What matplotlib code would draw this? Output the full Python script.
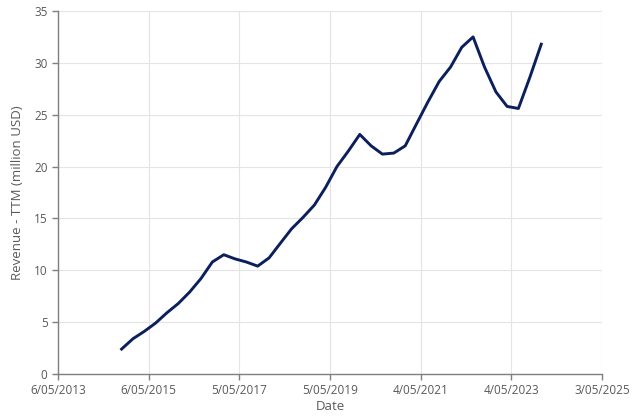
import datetime as dt
import matplotlib
matplotlib.use("Agg")
import matplotlib.pyplot as plt

# quarterly trailing-twelve-month revenue, Q3 2014 .. Q4 2023
start_quarter = (2014, 3)
revenue = [2.4, 3.4, 4.1, 4.9, 5.9, 6.8, 7.9, 9.2, 10.8, 11.5,
           11.1, 10.8, 10.4, 11.2, 12.6, 14.0, 15.1, 16.3, 18.0, 20.0,
           21.5, 23.1, 22.0, 21.2, 21.3, 22.0, 24.1, 26.2, 28.2, 29.6,
           31.5, 32.5, 29.6, 27.2, 25.8, 25.6, 28.6, 31.8]
tick_labels = ["6/05/2013", "6/05/2015", "5/05/2017", "5/05/2019",
               "4/05/2021", "4/05/2023", "3/05/2025"]
tick_step_days = 730


def quarter_end(y, q):
    if q == 4:
        return dt.date(y, 12, 31)
    return dt.date(y, 3 * q + 1, 1) - dt.timedelta(days=1)


dates = []
y, q = start_quarter
for _ in revenue:
    dates.append(quarter_end(y, q))
    q += 1
    if q > 4:
        q, y = 1, y + 1

first_tick = dt.date(2013, 5, 6)
tick_dates = [first_tick + dt.timedelta(days=tick_step_days * i) for i in range(len(tick_labels))]

plt.rcParams["font.family"] = ["Open Sans", "DejaVu Sans"]
text_col = "#595959"

dpi = 100
fig = plt.figure(figsize=(640 / dpi, 418 / dpi), dpi=dpi)
ax = fig.add_axes([0.0906, 0.1053, 0.85, 0.8684])

ax.plot(dates, revenue, color="#0b1f5c", lw=2.1, solid_joinstyle="round", zorder=3)

ax.set_xlim(tick_dates[0], tick_dates[-1])
ax.set_ylim(0, 35)
ax.set_xticks(tick_dates)
ax.set_xticklabels(tick_labels)
ax.set_yticks(range(0, 36, 5))

ax.grid(True, color="#e4e4e4", lw=0.8)
ax.set_axisbelow(True)
for s in ["top", "right"]:
    ax.spines[s].set_visible(False)
for s in ["left", "bottom"]:
    ax.spines[s].set_color("#7f7f7f")
    ax.spines[s].set_linewidth(1.0)
ax.tick_params(colors="#7f7f7f", labelcolor=text_col, labelsize=8.5, length=4, width=1.0)

ax.set_xlabel("Date", color=text_col, fontsize=9.5, labelpad=2)
ax.set_ylabel("Revenue - TTM (million USD)", color=text_col, fontsize=9.5, labelpad=7)

fig.savefig("out.png", dpi=dpi)
